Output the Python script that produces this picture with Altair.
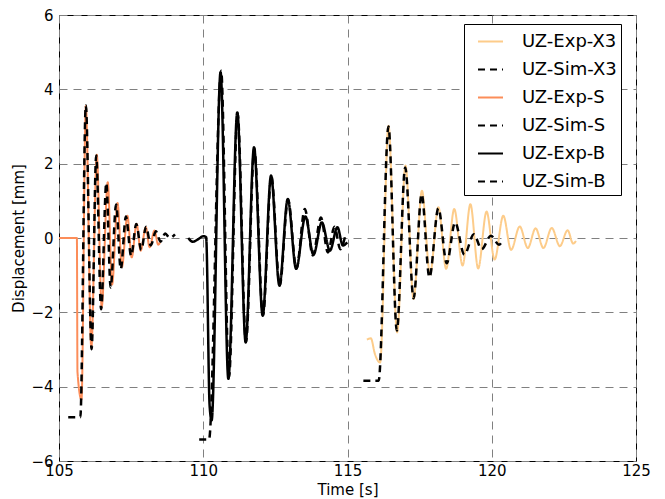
import altair as alt
import pandas as pd

# ---- data (extrema and turning points) ----
expX_t = [115.67, 115.81, 115.95, 116.13, 116.42, 116.72, 117.01, 117.29, 117.58, 117.86,
          118.15, 118.42, 118.70, 118.99, 119.26, 119.53, 119.82, 120.10, 120.40, 120.67,
          120.97, 121.25, 121.52, 121.79, 122.08, 122.36, 122.63, 122.82, 122.92]
expX_y = [-2.73, -2.70, -3.12, -3.35, 3.02, -2.54, 1.95, -1.64, 1.27, -0.98,
          0.83, -0.83, 0.78, -0.74, 0.91, -0.82, 0.71, -0.58, 0.60, -0.32,
          0.31, -0.27, 0.26, -0.27, 0.27, -0.22, 0.21, -0.15, -0.08]

simX_t = [115.55, 116.08, 116.42, 116.71, 117.00, 117.29, 117.57, 117.84, 118.15, 118.44,
          118.73, 119.05, 119.38, 119.65, 119.97, 120.25, 120.40]
simX_y = [-3.84, -3.84, 3.00, -2.49, 1.90, -1.62, 1.18, -1.06, 0.80, -0.68,
          0.42, -0.45, 0.10, -0.30, 0.06, -0.18, -0.03]

expS_t = [105.00, 105.62, 105.64, 105.78, 105.93, 106.12, 106.31, 106.48, 106.69, 106.84,
          107.03, 107.18, 107.37, 107.52, 107.69, 107.83, 108.01, 108.14, 108.31, 108.44, 108.50]
expS_y = [0.00, 0.00, -3.60, -4.35, 3.55, -2.95, 2.24, -1.85, 1.50, -1.25,
          0.94, -0.78, 0.60, -0.52, 0.38, -0.34, 0.29, -0.25, 0.20, -0.18, -0.12]

simS_t = [105.32, 105.74, 105.93, 106.13, 106.29, 106.46, 106.64, 106.79, 106.98, 107.14,
          107.32, 107.50, 107.68, 107.85, 108.02, 108.18, 108.36, 108.52, 108.68, 108.84, 109.02]
simS_y = [-4.82, -4.82, 3.57, -2.99, 2.22, -1.92, 1.48, -1.33, 0.90, -0.84,
          0.58, -0.48, 0.38, -0.32, 0.30, -0.20, 0.18, -0.10, 0.12, 0.00, 0.10]

expB_t = [109.48, 109.64, 109.85, 110.00, 110.10, 110.22, 110.29, 110.60, 110.87, 111.18,
          111.47, 111.76, 112.06, 112.35, 112.64, 112.93, 113.22, 113.54, 113.82, 114.11,
          114.39, 114.65, 114.84, 114.99]
expB_y = [0.00, -0.10, -0.02, 0.05, 0.02, -4.50, -4.91, 4.46, -3.79, 3.38,
          -2.81, 2.44, -2.09, 1.68, -1.28, 1.05, -0.83, 0.58, -0.45, 0.42,
          -0.34, 0.29, -0.20, -0.12]

simB_t = [109.86, 110.20, 110.62, 110.89, 111.19, 111.48, 111.77, 112.07, 112.36, 112.65,
          112.94, 113.23, 113.52, 113.80, 114.08, 114.32, 114.55, 114.75, 114.92]
simB_y = [-5.42, -5.42, 4.50, -3.75, 3.35, -2.80, 2.40, -2.08, 1.66, -1.28,
          1.03, -0.83, 0.78, -0.47, 0.55, -0.39, 0.30, -0.30, 0.05]

series_names = ["UZ-Exp-X3", "UZ-Sim-X3", "UZ-Exp-S", "UZ-Sim-S", "UZ-Exp-B", "UZ-Sim-B"]
series_data = [(expX_t, expX_y), (simX_t, simX_y), (expS_t, expS_y),
               (simS_t, simS_y), (expB_t, expB_y), (simB_t, simB_y)]

x_ticks = [105, 110, 115, 120, 125]
y_ticks = [-6, -4, -2, 0, 2, 4, 6]

# ---- styles ----
colors = ["#fdcc8a", "#000000", "#fc8d59", "#000000", "#000000", "#000000"]
dashes = [[1, 0], [7, 5], [1, 0], [7, 5], [1, 0], [7, 5]]
widths = [2, 2.5, 2, 2.5, 2.5, 2.5]

rows = []
for name, (ts, ys) in zip(series_names, series_data):
    for i, (t, y) in enumerate(zip(ts, ys)):
        rows.append({"series": name, "t": t, "y": y, "i": i})
df = pd.DataFrame(rows)

FONT = "DejaVu Sans"

x_enc = alt.X("t:Q", scale=alt.Scale(domain=[105, 125], nice=False, zero=False),
              axis=alt.Axis(values=x_ticks, title="Time [s]", format="d"))
y_enc = alt.Y("y:Q", scale=alt.Scale(domain=[-6, 6], nice=False),
              axis=alt.Axis(values=y_ticks, title="Displacement [mm]", format="d"))
color_enc = alt.Color("series:N", title=None,
                      scale=alt.Scale(domain=series_names, range=colors),
                      legend=alt.Legend(orient="none", legendX=405, legendY=9,
                                        symbolType="stroke", symbolSize=625,
                                        symbolStrokeWidth=2, labelFontSize=18,
                                        labelFont=FONT, labelColor="black",
                                        padding=4, strokeColor="black",
                                        fillColor="white", rowPadding=5,
                                        symbolOffset=9, labelOffset=18,
                                        cornerRadius=0, labelLimit=300))
dash_enc = alt.StrokeDash("series:N", title=None,
                          scale=alt.Scale(domain=series_names, range=dashes))

base = alt.Chart(df)
layers = []
for name, w in zip(series_names, widths):
    layers.append(
        base.transform_filter(alt.datum.series == name)
        .mark_line(strokeWidth=w, interpolate="monotone", clip=True)
        .encode(x=x_enc, y=y_enc, color=color_enc, strokeDash=dash_enc,
                order="i:Q")
    )

chart = (
    alt.layer(*layers)
    .properties(width=577, height=446,
                autosize=alt.AutoSizeParams(type="none"),
                padding={"left": 59, "top": 15, "right": 29, "bottom": 38})
    .configure_view(stroke="black", strokeWidth=1)
    .configure_axis(
        grid=True, gridColor="#808080", gridDash=[8, 6], gridWidth=1, gridOpacity=1,
        domain=False, ticks=False,
        labelFont=FONT, labelFontSize=15, labelColor="black",
        titleFont=FONT, titleFontSize=15, titleFontWeight="normal", titleColor="black",
        labelFlush=False, labelOverlap=False, labelBound=False,
    )
    .configure_axisX(labelPadding=2, titlePadding=4)
    .configure_axisY(labelPadding=6, titlePadding=4)
)

chart.save("out.html", embed_options={"renderer": "svg", "actions": False})
